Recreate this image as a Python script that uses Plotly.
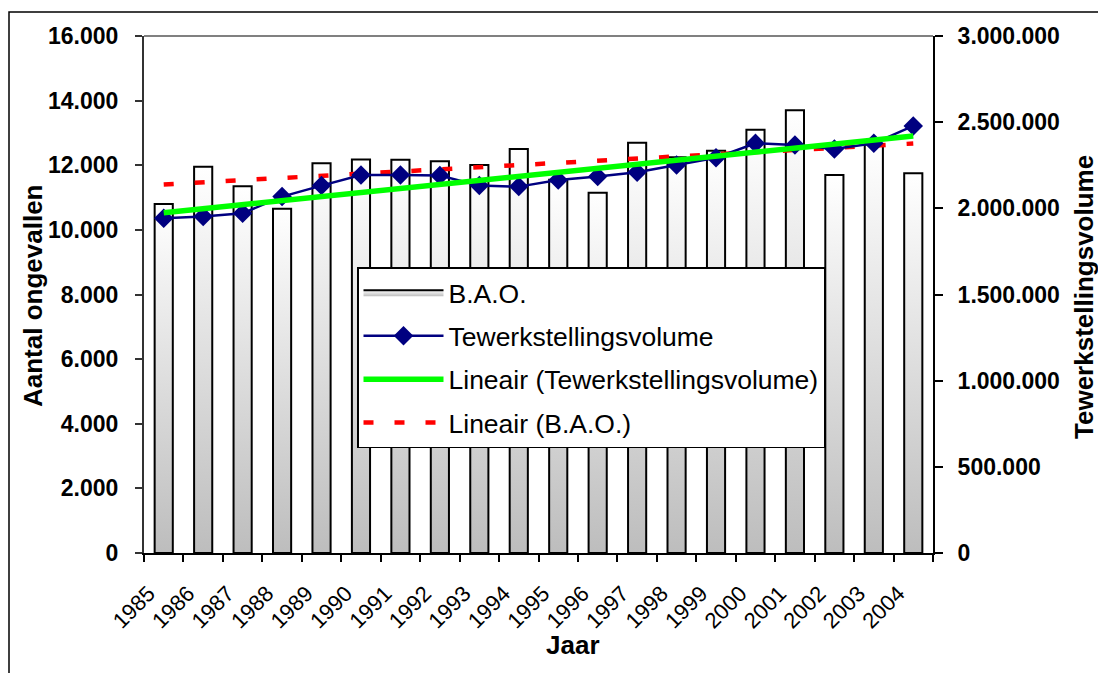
import numpy as np
import plotly.graph_objects as go

years = list(range(1985, 2005))
year_labels = [str(y) for y in years]
bao = [10800, 11950, 11350, 10650, 12060, 12180, 12170, 12120, 12010, 12500,
       11550, 11150, 12700, 12250, 12450, 13100, 13700, 11700, 12650, 11750]
tewerk = [1942000, 1952000, 1971000, 2068000, 2132000, 2193000, 2193000, 2190000, 2132000, 2126000,
          2164000, 2184000, 2209000, 2252000, 2294000, 2377000, 2368000, 2344000, 2377000, 2478000]

FONT = "Arial, 'Liberation Sans', sans-serif"
BAR_W = 0.46

fig = go.Figure()

# Bars drawn as gradient-filled polygons on the data scale
for i, (yr, v) in enumerate(zip(years, bao)):
    x0, x1 = yr - BAR_W / 2, yr + BAR_W / 2
    fig.add_trace(go.Scatter(
        x=[x0, x0, x1, x1, x0], y=[0, v, v, 0, 0],
        mode="lines", fill="toself",
        fillgradient=dict(type="vertical", colorscale=[[0, "#bdbdbd"], [1, "#ffffff"]]),
        line=dict(color="black", width=2),
        name="B.A.O.", legendgroup="bao", showlegend=(i == 0), legendrank=1,
        hoverinfo="skip", yaxis="y"))

yrs = np.array(years, dtype=float)
b_fit = np.polyval(np.polyfit(yrs, np.array(bao, float), 1), yrs)
t_fit = np.polyval(np.polyfit(yrs, np.array(tewerk, float), 1), yrs)

fig.add_trace(go.Scatter(
    x=[years[0], years[-1]], y=[b_fit[0], b_fit[-1]], mode="lines",
    line=dict(color="#ff0000", width=4.5, dash="10px,21px"),
    name="Lineair (B.A.O.)", legendgroup="lb", legendrank=4, yaxis="y"))

fig.add_trace(go.Scatter(
    x=years, y=tewerk, mode="lines+markers",
    line=dict(color="#000080", width=2.5),
    marker=dict(symbol="diamond", size=15, color="#000080"),
    name="Tewerkstellingsvolume", legendgroup="tw", legendrank=2, yaxis="y2"))

fig.add_trace(go.Scatter(
    x=[years[0], years[-1]], y=[t_fit[0], t_fit[-1]], mode="lines",
    line=dict(color="#00ff00", width=5.5),
    name="Lineair (Tewerkstellingsvolume)", legendgroup="lt", legendrank=3, yaxis="y2"))

L, R, T, B = 144, 165, 36, 120
W, H = 1098, 673
pw, ph = W - L - R, H - T - B

def px_x(x):
    return (x - L) / pw

def px_y(y):
    return (H - B - y) / ph

fig.update_layout(
    width=W, height=H,
    margin=dict(l=L, r=R, t=T, b=B, pad=0, autoexpand=False),
    paper_bgcolor="white", plot_bgcolor="white",
    separators=",.",
    font=dict(family=FONT, color="black"),
    showlegend=True,
    legend=dict(x=px_x(357), y=px_y(267), xanchor="left", yanchor="top",
                bgcolor="white", bordercolor="black", borderwidth=1.5,
                font=dict(size=26.5, family=FONT), traceorder="grouped",
                tracegroupgap=6, itemwidth=80),
    xaxis=dict(range=[1984.5, 2004.5], tickmode="array",
               tickvals=[y - 0.38 for y in years], ticktext=year_labels,
               ticks="", tickangle=-45, tickfont=dict(size=22, family=FONT),
               showline=True, linecolor="black", linewidth=2, automargin=False,
               showgrid=False, zeroline=False, ticklabelstandoff=17,
               minor=dict(tickmode="linear", tick0=1984.5, dtick=1, ticks="outside",
                          ticklen=7, tickwidth=1.5, tickcolor="black", showgrid=False)),
    yaxis=dict(range=[0, 16000], dtick=2000, tickformat=",d", automargin=False,
               ticks="outside", ticklen=7, tickwidth=1.5, tickcolor="#333",
               showline=True, linecolor="#333", linewidth=2,
               showgrid=False, zeroline=False, ticklabelstandoff=12,
               tickfont=dict(size=23, family=FONT, weight="bold")),
    yaxis2=dict(range=[0, 3000000], dtick=500000, tickformat=",d", overlaying="y",
                side="right", ticks="outside", ticklen=8, tickwidth=1.5, tickcolor="black",
                showline=True, linecolor="black", linewidth=2, automargin=False,
                showgrid=False, zeroline=False, ticklabelstandoff=10,
                tickfont=dict(size=23, family=FONT, weight="bold")),
    shapes=[
        dict(type="line", xref="paper", yref="paper", x0=0, x1=1, y0=1, y1=1,
             line=dict(color="#808080", width=2)),
        dict(type="rect", xref="paper", yref="paper",
             x0=px_x(9), x1=px_x(1200), y0=px_y(800), y1=px_y(12),
             line=dict(color="black", width=1.5)),
    ],
    annotations=[
        dict(text="<b>Aantal ongevallen</b>", xref="paper", yref="paper",
             x=px_x(33), y=px_y(295), textangle=-90, showarrow=False,
             xanchor="center", yanchor="middle", font=dict(size=26, family=FONT)),
        dict(text="<b>Tewerkstellingsvolume</b>", xref="paper", yref="paper",
             x=px_x(1084), y=px_y(297), textangle=-90, showarrow=False,
             xanchor="center", yanchor="middle", font=dict(size=26, family=FONT)),
        dict(text="<b>Jaar</b>", xref="paper", yref="paper",
             x=px_x(573), y=px_y(645), showarrow=False,
             xanchor="center", yanchor="middle", font=dict(size=26, family=FONT)),
    ],
)

fig.write_html("out.html", config={"displayModeBar": False},
               post_script="document.body.style.margin='0';document.body.style.padding='0';")
